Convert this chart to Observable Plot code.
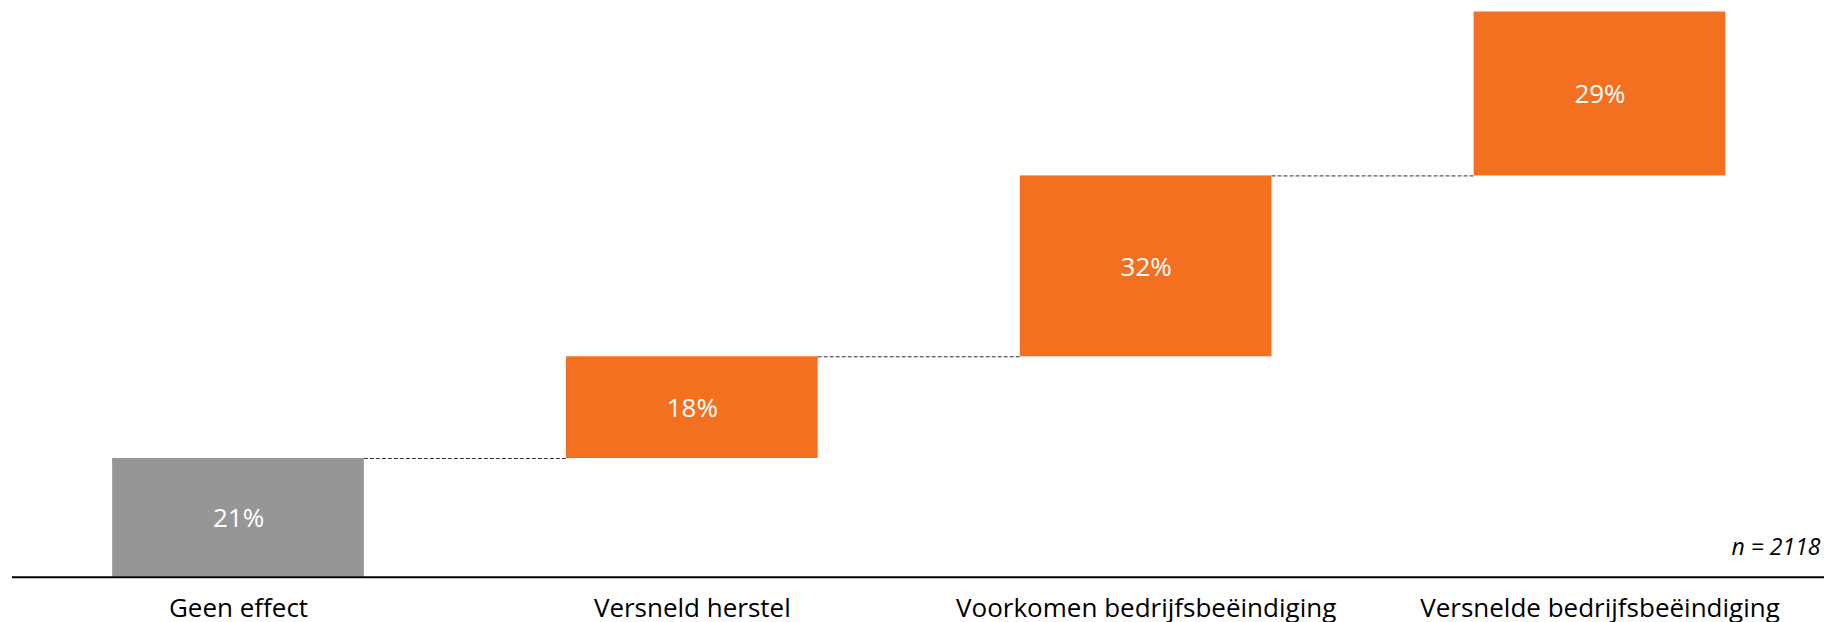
<!DOCTYPE html>
<html>
<head>
<meta charset="utf-8">
<script src="https://cdn.jsdelivr.net/npm/d3@7"></script>
<script src="https://cdn.jsdelivr.net/npm/@observablehq/plot@0.6"></script>
<style>
  html, body { margin: 0; padding: 0; background: #fff; }
  #chart svg { display: block; }
</style>
</head>
<body>
<div id="chart"></div>
<script>
// ---- data ----
const categories = ["Geen effect", "Versneld herstel", "Voorkomen bedrijfsbeëindiging", "Versnelde bedrijfsbeëindiging"];
const values = [21, 18, 32, 29];
const isBase = [true, false, false, false];
const sampleNote = "n = 2118";

// ---- derived table ----
const ends = Array.from(d3.cumsum(values));
const rows = categories.map((c, i) => ({
  i, category: c, value: values[i],
  start: isBase[i] ? 0 : ends[i] - values[i],
  end: ends[i],
  base: isBase[i]
}));
const connectors = rows.slice(0, -1).map((r, i) => ({ i, level: r.end }));

const half = 0.2773; // half bar width in category units
const W = 1824, H = 622;

const chart = Plot.plot({
  width: W,
  height: H,
  marginLeft: 12,
  marginRight: 0,
  marginTop: 11.5,
  marginBottom: 45.3,
  style: { fontFamily: "'Open Sans', sans-serif", background: "#fff" },
  x: { type: "linear", domain: [-0.498, 3.4947], axis: null },
  y: { domain: [0, 100], axis: null },
  marks: [
    Plot.rectY(rows, {
      x1: d => d.i - half, x2: d => d.i + half,
      y1: "start", y2: "end",
      fill: d => d.base ? "#969696" : "#F37021"
    }),
    Plot.ruleY(connectors, {
      x1: d => d.i + half, x2: d => d.i + 1 - half,
      y: "level",
      stroke: "#333333", strokeWidth: 1, strokeDasharray: "4,2"
    }),
    Plot.text(rows, {
      x: "i", y: d => (d.start + d.end) / 2,
      text: d => d.value + "%",
      fill: "white", fontSize: 26, dy: 1
    }),
    Plot.ruleY([0], { stroke: "#000", strokeWidth: 2 }),
    Plot.axisX({
      ticks: d3.range(categories.length),
      tickFormat: i => categories[i],
      tickSize: 0, tickPadding: 21, label: null,
      fontSize: 26, color: "#000", fill: "#000"
    }),
    Plot.text([sampleNote], {
      frameAnchor: "bottom-right", textAnchor: "end", lineAnchor: "middle",
      dx: -4, dy: -30, fontSize: 23, fontStyle: "italic", fill: "#000"
    })
  ]
});
document.getElementById("chart").appendChild(chart);
</script>
</body>
</html>
